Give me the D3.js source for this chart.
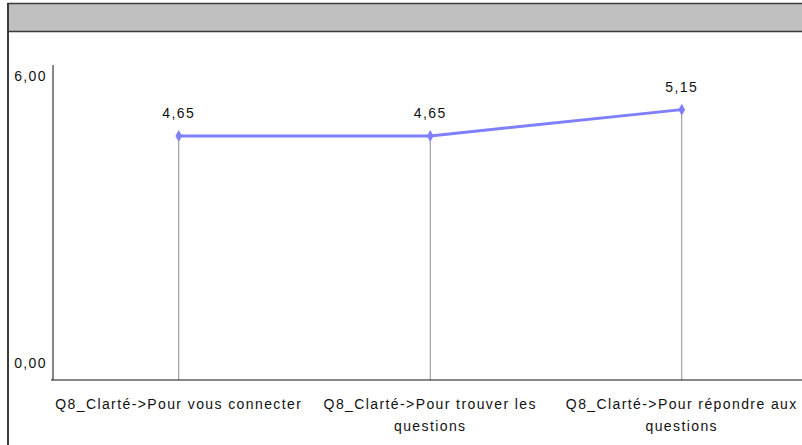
<!DOCTYPE html>
<html lang="fr">
    <head>
       <meta charset="utf-8">
       <script src="https://d3js.org/d3.v7.min.js"></script>
       <style>
           body { margin: 0; background: #fff; }
           text { font-family: "Liberation Sans", Arial, sans-serif; font-size: 14px; letter-spacing: 1.4px; fill: #111; }
       </style>
    </head>
    <body>
        <script>
            var width  = 802;
            var height = 445;

            // chart data
            var categories = ["Q8_Clarté->Pour vous connecter",
                              "Q8_Clarté->Pour trouver les questions",
                              "Q8_Clarté->Pour répondre aux questions"];
            var values = [4.65, 4.65, 5.15];
            var yTicks = [0, 6];

            // french style numbers, 4,65
            var fr = d3.formatLocale({decimal: ",", thousands: " ", grouping: [3], currency: ["", " €"]});
            var fmt = fr.format(".2f");

            var svg = d3.select("body")
                        .append("svg")
                        .attr("width", width)
                        .attr("height", height);

            // frame + grey header band
            svg.append("rect")
               .attr("x", 8).attr("y", 3.5)
               .attr("width", width + 10).attr("height", 28)
               .style("fill", "#c0c0c0")
               .style("stroke", "#3a3a3a")
               .style("stroke-width", 1.5);
            svg.append("line")
               .attr("x1", 8).attr("x2", 8)
               .attr("y1", 3).attr("y2", height)
               .style("stroke", "#3a3a3a")
               .style("stroke-width", 2);

            // plot area (note: "top" is taken by window.top)
            var plotL = 53, plotB = 380, plotT = 65;

            var x = d3.scaleBand()
                      .domain(categories)
                      .range([plotL, plotL + 3 * 251.5]);

            var y = d3.scaleLinear()
                      .domain([0, 6])
                      .range([plotB, plotT]);

            var cx = function(d) { return x(d) + x.bandwidth() / 2; };

            // drop lines
            svg.selectAll(".drop")
               .data(categories)
               .enter().append("line")
               .attr("x1", cx).attr("x2", cx)
               .attr("y1", function(d, i) { return y(values[i]); })
               .attr("y2", plotB)
               .style("stroke", "#8c8c8c")
               .style("stroke-width", 1);

            // axes
            svg.append("line")
               .attr("x1", plotL).attr("x2", plotL)
               .attr("y1", plotT).attr("y2", plotB)
               .style("stroke", "#111");
            svg.append("line")
               .attr("x1", plotL - 2).attr("x2", width)
               .attr("y1", plotB).attr("y2", plotB)
               .style("stroke", "#111");

            // y labels, drawn inside the axis range
            svg.selectAll(".ylab")
               .data(yTicks)
               .enter().append("text")
               .attr("x", plotL - 6)
               .attr("y", function(d) { return d == 0 ? y(d) - 12 : y(d) + 16; })
               .attr("text-anchor", "end")
               .text(function(d) { return fmt(d); });

            // the series
            var line = d3.line()
                         .x(function(d, i) { return cx(categories[i]); })
                         .y(function(d) { return y(d); });

            svg.append("path")
               .datum(values)
               .attr("d", line)
               .style("fill", "none")
               .style("stroke", "#7f7fff")
               .style("stroke-width", 3);

            svg.selectAll(".pt")
               .data(values)
               .enter().append("path")
               .attr("d", d3.symbol().type(d3.symbolDiamond).size(40))
               .attr("transform", function(d, i) { return "translate(" + cx(categories[i]) + "," + y(d) + ")"; })
               .style("fill", "#7f7fff");

            svg.selectAll(".vlab")
               .data(values)
               .enter().append("text")
               .attr("x", function(d, i) { return cx(categories[i]); })
               .attr("y", function(d) { return y(d) - 18; })
               .attr("text-anchor", "middle")
               .text(function(d) { return fmt(d); });

            // category labels, wrapped like the original
            function wrap(label) {
                if (label.length <= 31) return [label];
                var k = label.lastIndexOf(" ", 30);
                return [label.slice(0, k), label.slice(k + 1)];
            }

            var cat = svg.selectAll(".xlab")
               .data(categories)
               .enter().append("text")
               .attr("text-anchor", "middle")
               .attr("y", plotB + 29);

            cat.selectAll("tspan")
               .data(function(d) { return wrap(d).map(function(s) { return {s: s, c: cx(d)}; }); })
               .enter().append("tspan")
               .attr("x", function(d) { return d.c; })
               .attr("dy", function(d, i) { return i == 0 ? 0 : 22; })
               .text(function(d) { return d.s; });
        </script>
    </body>
</html>
